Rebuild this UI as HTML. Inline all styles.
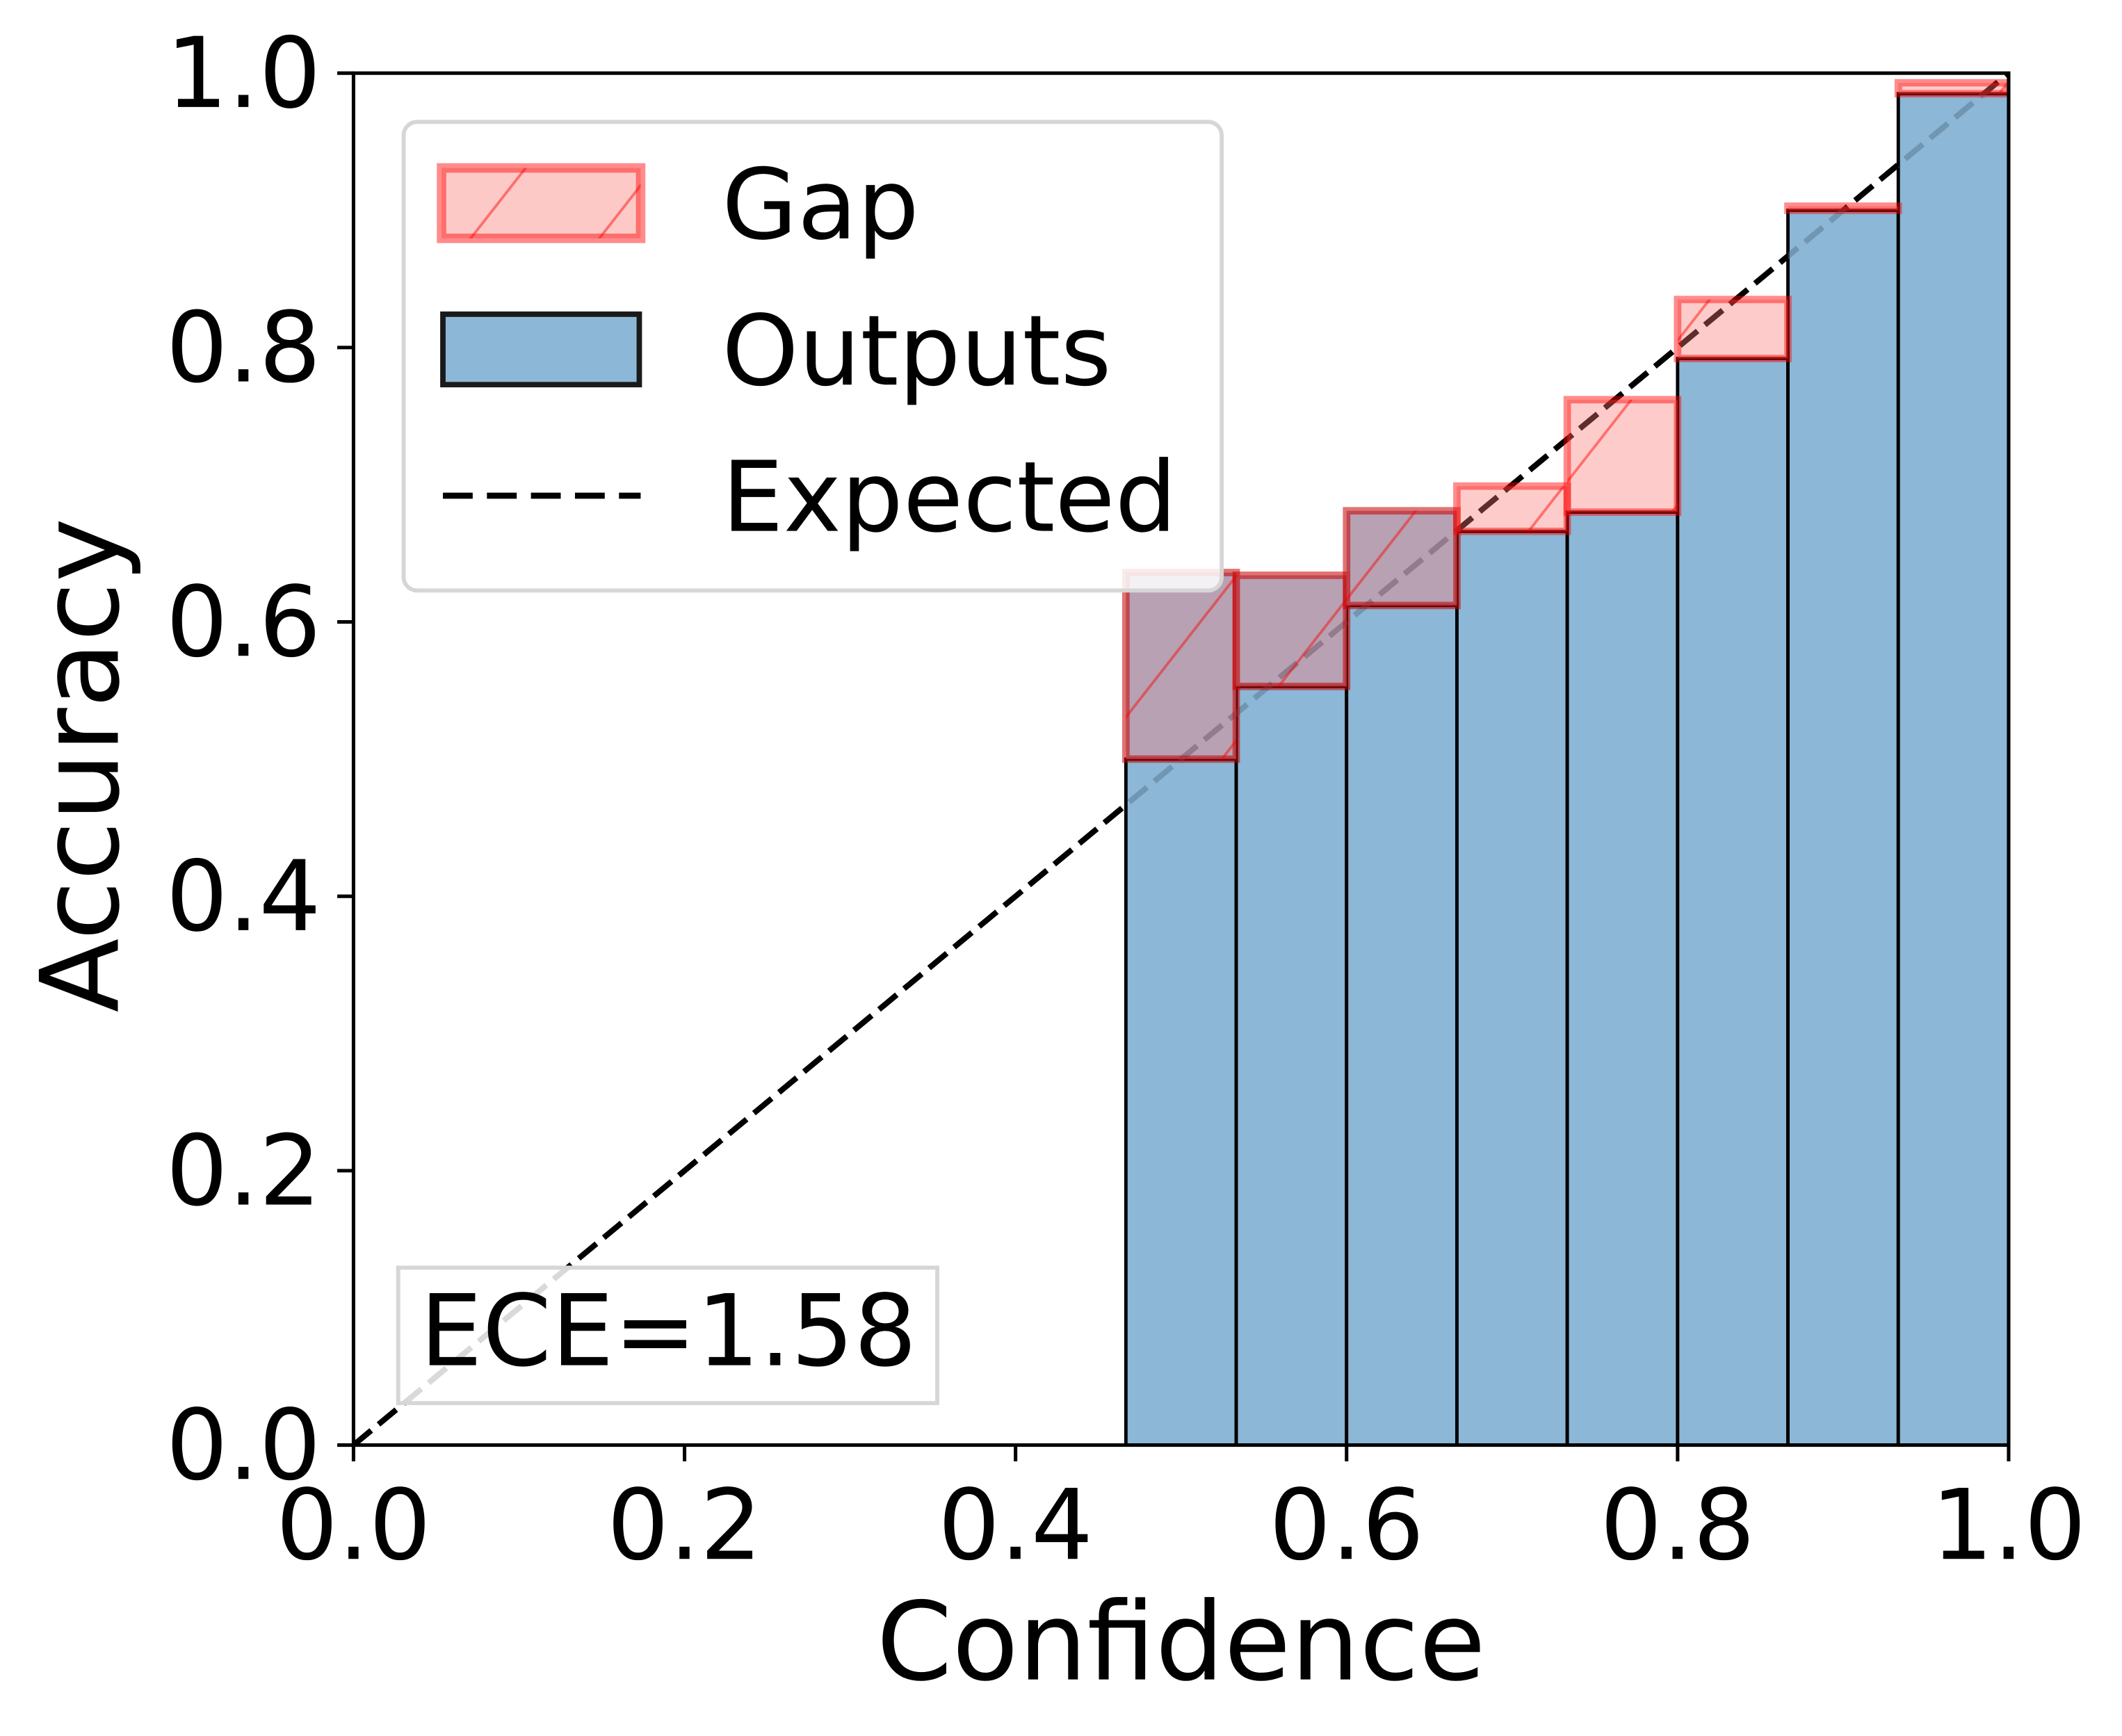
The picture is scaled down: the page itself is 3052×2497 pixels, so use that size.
<!DOCTYPE html>
<html><head><meta charset="utf-8"><style>
html,body{margin:0;padding:0;background:#fff}
svg{display:block}
text{font-family:"DejaVu Sans","Liberation Sans",sans-serif;fill:#000}
</style></head><body>
<svg id="chart" width="3052" height="2497" viewBox="0 0 1566.7 1281.8" xmlns="http://www.w3.org/2000/svg">
<defs>
<pattern id="hatch" patternUnits="userSpaceOnUse" width="95" height="120" patternTransform="skewX(-38)">
<line x1="10" y1="0" x2="10" y2="120" stroke="rgba(255,0,0,0.45)" stroke-width="2.5"/>
</pattern>
<clipPath id="plotclip"><rect x="261" y="54" width="1222" height="1013"/></clipPath>
<clipPath id="barclip"></clipPath>
</defs>
<rect width="1566.7" height="1281.8" fill="#fff"/>
<g id="plot" clip-path="url(#plotclip)"></g>
<g id="axes"></g>
<g id="legend">
<rect x="298" y="90" width="604" height="346" rx="10" fill="rgba(255,255,255,0.85)" stroke="#d6d6d6" stroke-width="3"/>
<g>
<rect x="326" y="124" width="147" height="52" fill="#fcc9c6" stroke="rgba(255,0,0,0.45)" stroke-width="7"/>
<rect x="326" y="124" width="147" height="52" fill="url(#hatch)"/>
<text x="533" y="176" font-size="72">Gap</text>
</g>
<g>
<rect x="327" y="232" width="145" height="52" fill="#8cb7d6" stroke="#1a1a1a" stroke-width="4"/>
<text x="533" y="284" font-size="72">Outputs</text>
</g>
<g>
<line x1="327" y1="366" x2="473" y2="366" stroke="#000" stroke-width="4.5" stroke-dasharray="22 10.5"/>
<text x="533" y="392" font-size="72">Expected</text>
</g>
</g>
<g>
<rect x="294" y="936" width="398" height="100" fill="rgba(255,255,255,0.85)" stroke="#d6d6d6" stroke-width="3"/>
<text x="310" y="1008" font-size="73">ECE=1.58</text>
</g>
</svg>
<script>
const binEdgesStart = [0,1,2,3,4,5,6,7,8,9,10,11,12,13,14];
const accuracy = [0,0,0,0,0,0,0,0.50,0.553,0.612,0.666,0.680,0.792,0.900,0.985];
const confidence = [0,0,0,0,0,0,0,0.636,0.634,0.681,0.699,0.762,0.835,0.903,0.993];
const nBins = 15;
const xTicks = [0,0.2,0.4,0.6,0.8,1.0];
const yTicks = [0,0.2,0.4,0.6,0.8,1.0];
const tickLabels = ["0.0","0.2","0.4","0.6","0.8","1.0"];

const NS="http://www.w3.org/2000/svg";
const L=261,R=1483,T=54,B=1067;
function X(v){return L+v*(R-L);}
function Y(v){return B-v*(B-T);}
function mk(tag,attrs,parent){const e=document.createElementNS(NS,tag);for(const k in attrs)e.setAttribute(k,attrs[k]);parent.appendChild(e);return e;}
const plot=document.getElementById('plot');
const axes=document.getElementById('axes');
const barclip=document.getElementById('barclip');

const diag=mk('line',{x1:X(0),y1:Y(0),x2:X(1),y2:Y(1),stroke:'#000','stroke-width':4.2,'stroke-dasharray':'17 7'},plot);



binEdgesStart.forEach((b,i)=>{
  if(accuracy[i]<=0) return;
  const x0=X(b/nBins),x1=X((b+1)/nBins);
  const r=mk('rect',{x:x0,y:Y(accuracy[i]),width:x1-x0,height:Y(0)-Y(accuracy[i]),fill:'#8cb7d6',stroke:'#000','stroke-width':2.5},plot);
  
  
  mk('rect',{x:x0,y:Y(accuracy[i]),width:x1-x0,height:Y(0)-Y(accuracy[i])},barclip);
});
const shadowG=mk('g',{'clip-path':'url(#barclip)'},plot);
const diag2=mk('line',{x1:X(0),y1:Y(0),x2:X(1),y2:Y(1),stroke:'rgba(80,110,135,0.45)','stroke-width':4.2,'stroke-dasharray':'17 7'},shadowG);



binEdgesStart.forEach((b,i)=>{
  const x0=X(b/nBins),x1=X((b+1)/nBins);
  const lo=Math.min(accuracy[i],confidence[i]),hi=Math.max(accuracy[i],confidence[i]);
  const h=Math.max(Y(lo)-Y(hi),0);
  const g=mk('g',{},plot);
  
  
  const purple = (i>=7 && i<=9);
  mk('rect',{x:x0,y:Y(hi),width:x1-x0,height:h,fill:purple?'rgba(170,145,165,0.85)':'rgba(250,120,115,0.38)',stroke:purple?'rgba(200,0,0,0.55)':'rgba(255,0,0,0.45)','stroke-width':5.5},g);
  if(h>0) mk('rect',{x:x0,y:Y(hi),width:x1-x0,height:h,fill:'url(#hatch)'},g);
});

const sp=mk('rect',{x:L,y:T,width:R-L,height:B-T,fill:'none',stroke:'#000','stroke-width':2.6},axes);



xTicks.forEach((v,i)=>{
  const t=mk('line',{x1:X(v),y1:B,x2:X(v),y2:B+12,stroke:'#000','stroke-width':2.6},axes);
  
  
  const tx=mk('text',{x:X(v),y:1151,'font-size':72,'text-anchor':'middle'},axes);
  tx.textContent=tickLabels[i];
  
  
});
yTicks.forEach((v,i)=>{
  const t=mk('line',{x1:L-12,y1:Y(v),x2:L,y2:Y(v),stroke:'#000','stroke-width':2.6},axes);
  
  
  const tx=mk('text',{x:237,y:Y(v)+25,'font-size':72,'text-anchor':'end'},axes);
  tx.textContent=tickLabels[i];
  
  
});
const xt=mk('text',{x:872,y:1240,'font-size':80,'text-anchor':'middle'},axes);
xt.textContent='Confidence';


const yt=mk('text',{x:0,y:0,'font-size':80,'text-anchor':'middle',transform:'translate(87,565) rotate(-90)'},axes);
yt.textContent='Accuracy';


</script>
</body></html>
